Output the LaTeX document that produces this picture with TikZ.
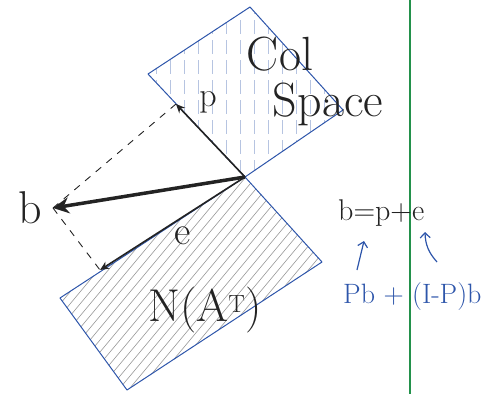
\documentclass[tikz,border=0pt]{standalone}
\usepackage{xcolor}
\usepackage{tikz}
\usetikzlibrary{arrows.meta, calc, positioning}

\definecolor{penblue}{RGB}{45,85,170}
\definecolor{pengreen}{RGB}{35,145,75}
\definecolor{ink}{RGB}{35,35,35}

\begin{document}
\begin{tikzpicture}[x=1pt, y=-1pt, >=Stealth,
    vec/.style={ink, line width=1.6pt, -{Stealth[length=9pt, width=8pt]}},
    hand/.style={font=\fontsize{#1}{#1}\selectfont, text=ink, inner sep=0pt},
    note/.style={font=\fontsize{28}{28}\selectfont, text=penblue, inner sep=0pt},
    plane/.style={penblue, line width=1pt, line join=round}]

    \useasboundingbox (0,0) rectangle (493,394);

    % --- Eckpunkte ---
    \coordinate (O) at (245,177);
    \coordinate (btip) at (53,208);
    \coordinate (ptip) at (176,104);
    \coordinate (etip) at (100,270);
    % Col space
    \coordinate (cL) at (148,74);
    \coordinate (cT) at (250,7);
    \coordinate (cR) at (343,110);
    % N(A^T)
    \coordinate (nR) at (322,262);
    \coordinate (nB) at (127,390);
    \coordinate (nL) at (60,298);

    % --- Schraffur ---
    \begin{scope}
        \clip (O) -- (cL) -- (cT) -- (cR) -- cycle;
        \foreach \x in {156,170,...,340}
            \draw[penblue!35, line width=0.6pt, dash pattern=on 14pt off 6pt] (\x,0) -- (\x,180);
    \end{scope}
    \begin{scope}
        \clip (O) -- (nR) -- (nB) -- (nL) -- cycle;
        \foreach \a in {-30,-20,...,210}
            \draw[black!40, line width=0.6pt] (\a,400) -- ++(250,-300);
    \end{scope}

    % --- Ebenen ---
    \draw[plane] (O) -- (cL) -- (cT) -- (cR) -- cycle;
    \draw[plane] (O) -- (nR) -- (nB) -- (nL) -- cycle;

    % --- Projektion (gestrichelt) ---
    \draw[ink, dash pattern=on 7pt off 7pt, line width=0.9pt] (btip) -- (ptip);
    \draw[ink, dash pattern=on 7pt off 7pt, line width=0.9pt] (btip) -- (etip);

    % --- Vektoren ---
    \draw[vec] (O) -- (ptip);
    \draw[vec] (O) -- (etip);
    \draw[ink, line width=3.5pt, -{Stealth[length=16pt, width=16pt]}] (O) -- (btip);

    % --- Beschriftung ---
    \node[hand=46] (blab) at (30,208) {b};
    \node[hand=34] (plab) at (208,102) {p};
    \node[hand=40] (elab) at (183,236) {e};
    \node[hand=48] (col) at (280,54) {Col};
    \node[hand=48] (space) at (328,104) {Space};
    \node[hand=46] (nat) at (205,310) {N(A$^{\mathrm{T}}$)};

    % --- Trennlinie ---
    \coordinate (gTop) at (410,0);
    \coordinate (gBot) at (410,394);
    \draw[pengreen, line width=2pt] (gTop) -- (gBot);

    % --- b = p + e ---
    \node[hand=30, anchor=west] (eq) at (338,213) {b=p+e};
    \node[note, anchor=west] (sum) at (343,297) {Pb + (I-P)b};
    \coordinate (pfrom) at (357,270);
    \coordinate (pto) at (364,241);
    \coordinate (efrom) at (437,262);
    \coordinate (eto) at (425,232);
    \draw[penblue, line width=1.2pt, -{Straight Barb[length=5pt]}] (pfrom) -- (pto);
    \draw[penblue, line width=1.2pt, -{Straight Barb[length=5pt]}] (efrom) to[bend left=20] (eto);

\end{tikzpicture}
\end{document}
